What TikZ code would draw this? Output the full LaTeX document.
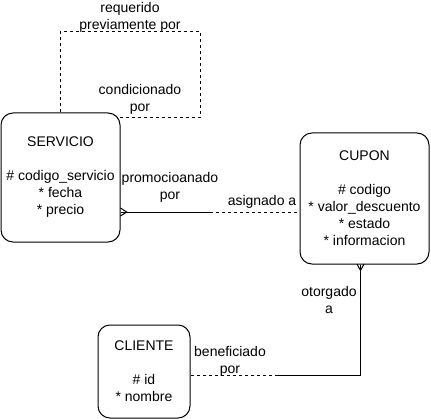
\documentclass[tikz,border=0pt]{standalone}
\usepackage{fontspec}
\setmainfont{Liberation Sans}
\begin{document}
\begin{tikzpicture}[x=0.75pt,y=-0.75pt,
  every node/.style={font=\fontsize{10.5}{12.75}\selectfont, inner sep=0pt, align=center},
  entity/.style={draw, line width=0.75pt, rounded corners=9pt, fill=white},
  rel/.style={line width=0.75pt},
  reldash/.style={line width=0.75pt, dash pattern=on 2.25pt off 2.25pt},
  lbl/.style={fill=none}]
\useasboundingbox (0,0) rectangle (431,420);
% entities
\node[entity, minimum width=89.25pt, minimum height=96.75pt] (serv) at (60.5,177.5)
  {SERVICIO\\[12.75pt]\# codigo\_servicio\\* fecha\\* precio};
\node[entity, minimum width=96.75pt, minimum height=98.25pt] (cupon) at (364.5,198.5)
  {CUPON\\[12.75pt]\# codigo\\* valor\_descuento\\* estado\\* informacion};
\node[entity, minimum width=69pt, minimum height=69.75pt] (cli) at (144,371.5)
  {CLIENTE\\[12.75pt]\# id\\* nombre};
% self relation
\coordinate (s1) at (60,32);
\coordinate (s2) at (200,32);
\coordinate (s3) at (200,118);
\coordinate (s4) at (118,118);
\draw[reldash] (serv.north -| s1) -- (s1) -- (s2) -- (s3) -- (s4);
\node[lbl] (lreq) at (130,17) {requerido\\previamente por};
\node[lbl] (lcond) at (140,99) {condicionado\\por};
% servicio - cupon
\coordinate (m1) at (210,212);
\coordinate (f1) at (126.7,212);
\draw[rel] (serv.east |- m1) -- (m1);
\draw[reldash] (m1) -- (cupon.west |- m1);
\draw[rel] (120.5,208) -- (f1) -- (120.5,216);
\node[lbl] (lprom) at (170,187) {promocioanado\\por};
\node[lbl] (lasig) at (262,202) {asignado a};
% cupon - cliente
\coordinate (c1) at (360.5,375);
\coordinate (c2) at (278,375);
\coordinate (f2) at (360.5,270.5);
\draw[rel] (cupon.south -| c1) -- (c1) -- (c2);
\draw[reldash] (c2) -- (cli.east |- c2);
\draw[rel] (357,264) -- (f2) -- (364,264);
\node[lbl] (lotor) at (329,300) {otorgado\\a};
\node[lbl] (lbene) at (230,361) {beneficiado\\por};
\end{tikzpicture}
\end{document}
